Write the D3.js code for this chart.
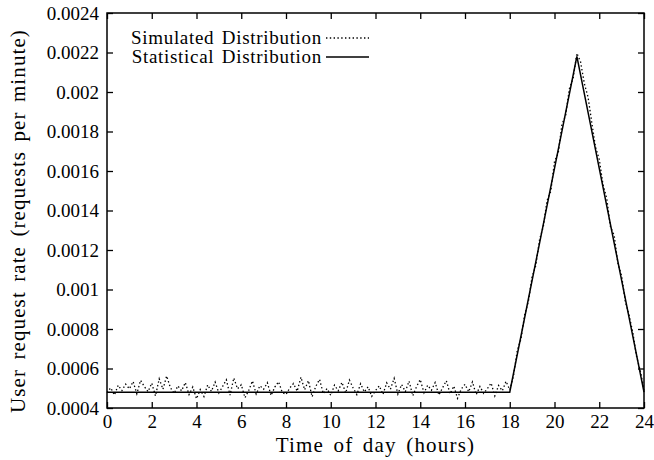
<!DOCTYPE html>
<html>
<head>
<meta charset="utf-8">
<script src="https://cdn.jsdelivr.net/npm/d3@7"></script>
<style>
  body { margin: 0; background: #fff; }
  text { font-family: "Liberation Serif", "DejaVu Serif", serif; fill: #000; }
</style>
</head>
<body>
<div id="chart"></div>
<script>
// tick labels
const xTicks = [0, 2, 4, 6, 8, 10, 12, 14, 16, 18, 20, 22, 24];
const yTicks = [0.0004, 0.0006, 0.0008, 0.001, 0.0012, 0.0014, 0.0016, 0.0018, 0.002, 0.0022, 0.0024];

// statistical distribution (hour, rate)
const statHours = [0, 18, 21, 24];
const statRate = [0.00048, 0.00048, 0.00218, 0.00048];

// simulated distribution, one value every 10 minutes from 0h to 24h
const simRate = [
  0.000478, 0.000502, 0.000466, 0.000515, 0.000488, 0.000521,
  0.000497, 0.000534, 0.000472, 0.000540, 0.000509, 0.000483,
  0.000526, 0.000461, 0.000548, 0.000495, 0.000562, 0.000503,
  0.000474, 0.000512, 0.000487, 0.000529, 0.000468, 0.000506,
  0.000447, 0.000493, 0.000458, 0.000517, 0.000484, 0.000531,
  0.000476, 0.000509, 0.000543, 0.000465, 0.000552, 0.000497,
  0.000518, 0.000452, 0.000489, 0.000537, 0.000471, 0.000513,
  0.000495, 0.000528, 0.000463, 0.000506, 0.000533, 0.000479,
  0.000468, 0.000501, 0.000524, 0.000485, 0.000556, 0.000492,
  0.000539, 0.000457, 0.000510, 0.000545, 0.000473, 0.000498,
  0.000464, 0.000516, 0.000487, 0.000530, 0.000476, 0.000541,
  0.000502, 0.000468, 0.000523, 0.000481, 0.000507, 0.000459,
  0.000488, 0.000512, 0.000469, 0.000527, 0.000495, 0.000550,
  0.000471, 0.000519, 0.000483, 0.000536, 0.000462, 0.000508,
  0.000544, 0.000477, 0.000515, 0.000490, 0.000529, 0.000466,
  0.000503, 0.000538, 0.000472, 0.000511, 0.000449, 0.000496,
  0.000520, 0.000482, 0.000532, 0.000467, 0.000509, 0.000474,
  0.000498, 0.000526, 0.000461, 0.000514, 0.000487, 0.000535,
  0.000492,
  0.000561, 0.000690, 0.000748, 0.000872, 0.000940, 0.001065,
  0.001122, 0.001254, 0.001318, 0.001451, 0.001497, 0.001648,
  0.001690, 0.001836, 0.001882, 0.002018, 0.002069, 0.002196,
  0.002152, 0.002043, 0.001974, 0.001845, 0.001721, 0.001659,
  0.001532, 0.001462, 0.001318, 0.001274, 0.001133, 0.001069,
  0.000938, 0.000871, 0.000782, 0.000662, 0.000589, 0.000493
];
const simHours = simRate.map((d, i) => i / 6);

// set the dimensions and margins of the graph
const margin = {top: 13, right: 10, bottom: 52, left: 107},
width = 654 - margin.left - margin.right,
height = 460 - margin.top - margin.bottom;

const svg = d3.select("#chart")
.append("svg")
.attr("width", width + margin.left + margin.right)
.attr("height", height + margin.top + margin.bottom)
.append("g")
.attr("transform", `translate(${margin.left}, ${margin.top})`);

const x = d3.scaleLinear().domain([0, 24]).range([0, width]);
const y = d3.scaleLinear().domain([0.0004, 0.0024]).range([height, 0]);

const fmtY = d => String(+d.toFixed(4));

// axes, gnuplot style: inward ticks mirrored on all sides
svg.append("g")
.attr("transform", `translate(0, ${height})`)
.call(d3.axisBottom(x).tickValues(xTicks).tickSizeInner(-6).tickSizeOuter(0).tickPadding(7));
svg.append("g")
.call(d3.axisLeft(y).tickValues(yTicks).tickFormat(fmtY).tickSizeInner(-6).tickSizeOuter(0).tickPadding(8));
svg.append("g")
.call(d3.axisTop(x).tickValues(xTicks).tickSizeInner(-6).tickSizeOuter(0).tickFormat(""));
svg.append("g")
.attr("transform", `translate(${width}, 0)`)
.call(d3.axisRight(y).tickValues(yTicks).tickSizeInner(-6).tickSizeOuter(0).tickFormat(""));

svg.selectAll(".domain").remove();
svg.selectAll(".tick line").attr("stroke", "#000").attr("stroke-width", 1.3);
svg.selectAll(".tick text").style("font-size", "19px").attr("fill", "#000");

// border
svg.append("rect")
.attr("width", width).attr("height", height)
.attr("fill", "none").attr("stroke", "#000").attr("stroke-width", 1.5);

// lines
const simLine = d3.line().x((d, i) => x(simHours[i])).y(d => y(d));
const statLine = d3.line().x((d, i) => x(statHours[i])).y(d => y(d));

svg.append("path")
.datum(simRate)
.attr("d", simLine)
.attr("fill", "none")
.attr("stroke", "#000")
.attr("stroke-width", 1.3)
.attr("stroke-dasharray", "1.4,2.4");

svg.append("path")
.datum(statRate)
.attr("d", statLine)
.attr("fill", "none")
.attr("stroke", "#000")
.attr("stroke-width", 1.5);

// legend
const legend = svg.append("g").attr("transform", "translate(215, 0)");
const keys = ["Simulated Distribution", "Statistical Distribution"];
keys.forEach(function(k, i) {
  legend.append("text")
  .attr("x", 0).attr("y", 31 + i * 19)
  .attr("text-anchor", "end")
  .style("font-size", "19px")
  .style("letter-spacing", "0.7px")
  .style("word-spacing", "2px")
  .text(k);
  legend.append("line")
  .attr("x1", 4).attr("x2", 47)
  .attr("y1", 25 + i * 19).attr("y2", 25 + i * 19)
  .attr("stroke", "#000")
  .attr("stroke-width", 1.3)
  .attr("stroke-dasharray", i === 0 ? "1.4,2.4" : null);
});

// axis titles
svg.append("text")
.attr("x", width / 2).attr("y", height + 44)
.attr("text-anchor", "middle")
.style("font-size", "21px")
.style("letter-spacing", "1.2px")
.style("word-spacing", "3px")
.text("Time of day (hours)");

svg.append("text")
.attr("transform", `translate(${25 - margin.left}, ${221 - margin.top}) rotate(-90)`)
.attr("text-anchor", "middle")
.style("font-size", "21px")
.style("letter-spacing", "1.1px")
.style("word-spacing", "3px")
.text("User request rate (requests per minute)");
</script>
</body>
</html>
